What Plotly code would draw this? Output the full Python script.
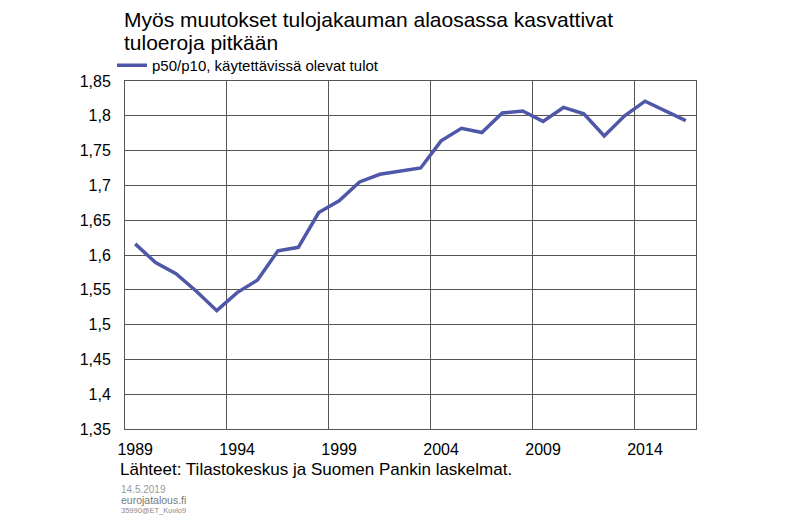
import plotly.graph_objects as go

years = [str(y) for y in range(1989, 2017)]
p50_p10 = [1.616, 1.589, 1.573, 1.548, 1.520, 1.546, 1.564, 1.606, 1.611, 1.661,
           1.678, 1.705, 1.716, 1.721, 1.725, 1.764, 1.782, 1.776, 1.804, 1.807,
           1.792, 1.812, 1.803, 1.771, 1.800, 1.821, 1.807, 1.793]
series_name = "p50/p10, käytettävissä olevat tulot"
title_lines = ["Myös muutokset tulojakauman alaosassa kasvattivat", "tuloeroja pitkään"]
source_text = "Lähteet: Tilastokeskus ja Suomen Pankin laskelmat."
footer_lines = ["14.5.2019", "eurojatalous.fi", "35990@ET_Kuvio9"]

FONT = "Liberation Sans, Arial, sans-serif"
W, H = 800, 522
ML, MR, MT, MB = 125, 104, 81, 93
PH = H - MT - MB
PW = W - ML - MR


def py(pix):
    """pixel row from top -> paper y"""
    return (H - MB - pix) / PH


def px(pix):
    return (pix - ML) / PW


fig = go.Figure()
fig.add_trace(go.Scatter(
    x=years, y=p50_p10, mode="lines", name=series_name,
    line=dict(color="#4F58A8", width=3.5),
))

fig.update_layout(
    width=W, height=H,
    margin=dict(l=ML, r=MR, t=MT, b=MB, autoexpand=False),
    paper_bgcolor="white", plot_bgcolor="white",
    separators=", ",
    font=dict(family=FONT, color="#000000", size=16),
    showlegend=True,
    legend=dict(x=px(112), xanchor="left", y=py(82), yanchor="bottom",
                font=dict(size=15), bgcolor="rgba(0,0,0,0)",
                itemwidth=30, tracegroupgap=0),
)

fig.update_xaxes(
    type="category", tickmode="linear", tick0=0, dtick=5,
    tickson="boundaries", ticks="", showgrid=True, gridcolor="#555555", gridwidth=1,
    showline=True, linecolor="#555555", linewidth=1, mirror=True,
    tickfont=dict(size=16), tickangle=0, range=[-0.5, 27.5], automargin=False,
    ticklabelstandoff=6,
)
fig.update_yaxes(
    range=[1.35, 1.85], dtick=0.05, tick0=1.35, tickformat=".2~f",
    showgrid=True, gridcolor="#555555", gridwidth=1,
    showline=True, linecolor="#555555", linewidth=1, mirror=True,
    ticks="", tickfont=dict(size=16), zeroline=False, automargin=False,
    ticklabelstandoff=10,
)

for txt, yc in zip(title_lines, [20, 42]):
    fig.add_annotation(text=txt, xref="paper", yref="paper",
                       x=px(122), y=py(yc), xanchor="left", yanchor="middle",
                       showarrow=False, font=dict(size=21, family=FONT, color="#000000"))

fig.add_annotation(text=source_text, xref="paper", yref="paper",
                   x=px(118), y=py(469), xanchor="left", yanchor="middle", showarrow=False,
                   font=dict(size=17, family=FONT, color="#000000"))
for txt, yc, sz, col in zip(footer_lines, [489, 500, 510], [10, 10.5, 7.5],
                            ["#999999", "#777777", "#888888"]):
    fig.add_annotation(text=txt, xref="paper", yref="paper",
                       x=px(119), y=py(yc), xanchor="left", yanchor="middle", showarrow=False,
                       font=dict(size=sz, family=FONT, color=col))

fig.write_html("out.html", config={"displayModeBar": False},
               post_script="document.body.style.margin='0';")
